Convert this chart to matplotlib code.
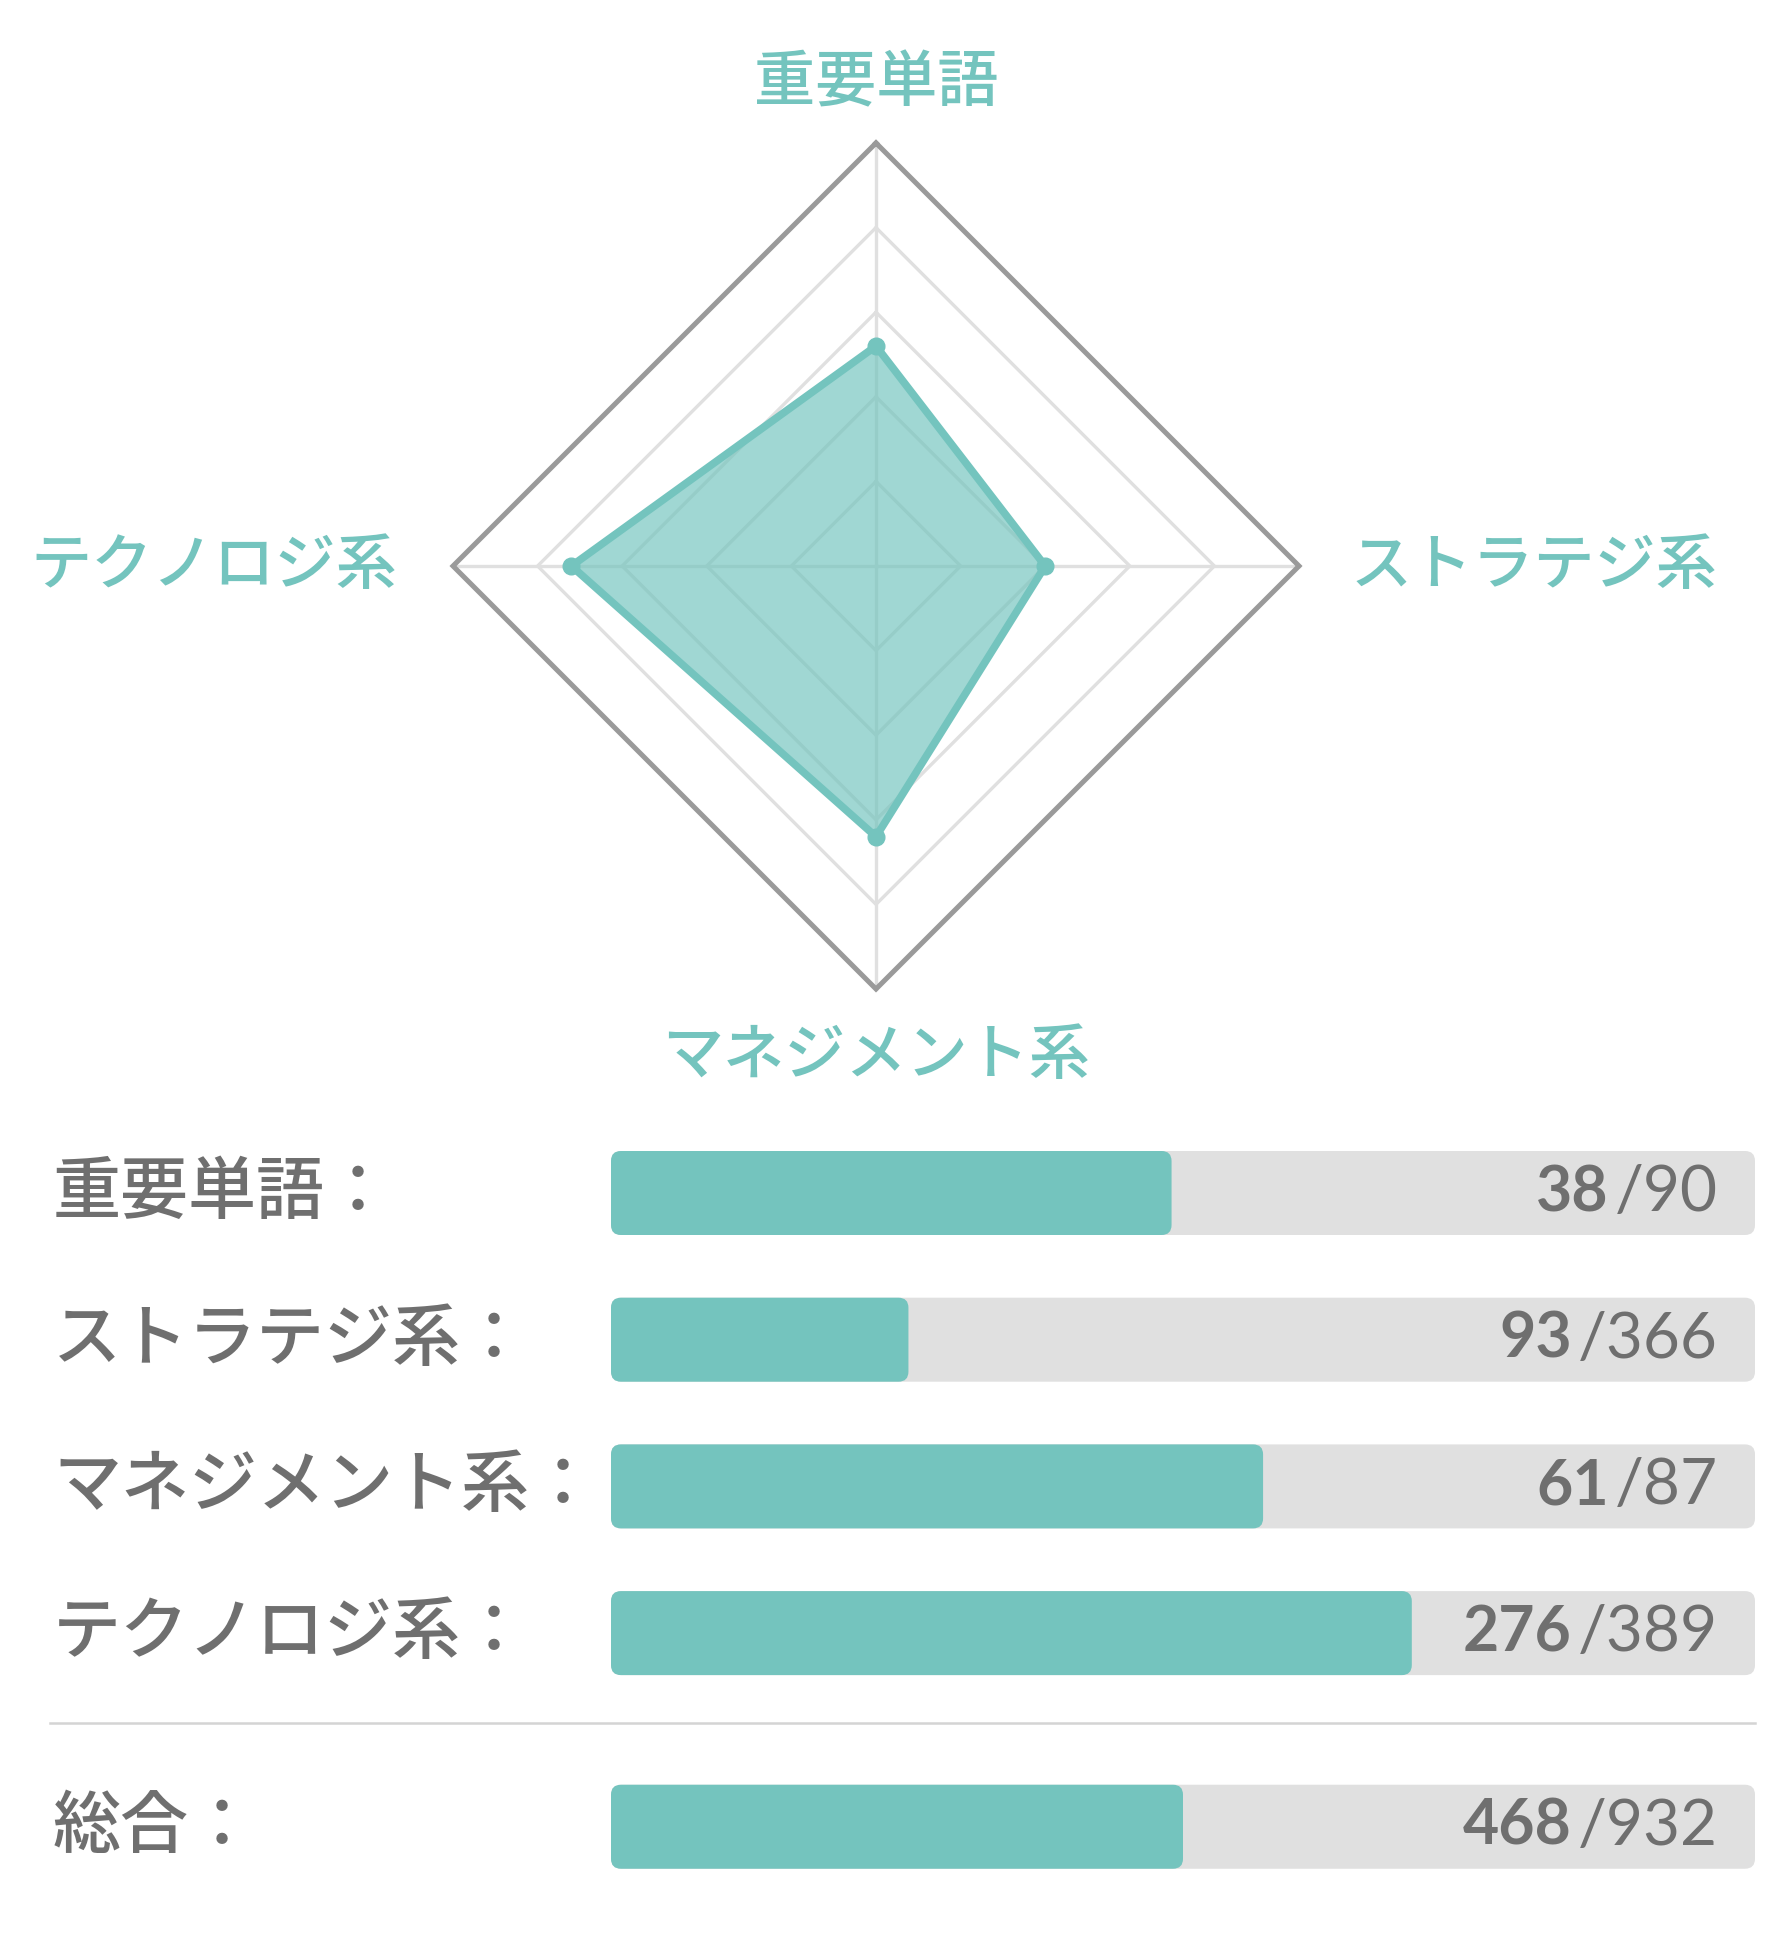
import numpy as np
import matplotlib
matplotlib.use("Agg")
import matplotlib.pyplot as plt
from matplotlib.patches import FancyBboxPatch
import matplotlib.transforms as mtransforms

plt.rcParams['font.family'] = ['Noto Sans CJK JP', 'DejaVu Sans']

# radar data (scores 0-100)
radar_axes = ['重要単語', 'ストラテジ系', 'マネジメント系', 'テクノロジ系']
radar_scores = [52, 40, 64, 72]

# bar rows
row_labels = ['重要単語：', 'ストラテジ系：', 'マネジメント系：', 'テクノロジ系：', '総合：']
correct = [38, 93, 61, 276, 468]
totals = [90, 366, 87, 389, 932]
bar_fill = [49, 26, 57, 70, 50]   # shown progress in percent
row_pos = [0, 1, 2, 3, 4.32]

TEAL = '#74c4be'
GRAY_TXT = '#6f6f6f'

W, H = 1780, 1944
fig = plt.figure(figsize=(W / 100, H / 100), dpi=100)
fig.patch.set_facecolor('white')

# ---------- radar ----------
cx, cy, half = 876, 566, 500
rmax = 100 * half / 423
ax = fig.add_axes([(cx - half) / W, 1 - (cy + half) / H, 2 * half / W, 2 * half / H])
ax.set_xlim(-rmax, rmax)
ax.set_ylim(-rmax, rmax)
ax.set_aspect('equal')
ax.axis('off')

theta = np.arange(len(radar_axes)) * np.pi / 2
sx, sy = np.sin(theta), np.cos(theta)

for lev in [20, 40, 60, 80]:
    ax.plot(np.append(sx, sx[0]) * lev, np.append(sy, sy[0]) * lev,
            color='#e0e0e0', lw=2.4, zorder=1)
for i in range(len(theta)):
    ax.plot([0, sx[i] * 100], [0, sy[i] * 100], color='#e0e0e0', lw=2.4, zorder=1)
ax.plot(np.append(sx, sx[0]) * 100, np.append(sy, sy[0]) * 100,
        color='#9a9a9a', lw=3.6, zorder=1, solid_joinstyle='miter')

vals = np.array(radar_scores, dtype=float)
px, py = sx * vals, sy * vals
ax.fill(px, py, color=TEAL, alpha=0.68, lw=0, zorder=2)
ax.plot(np.append(px, px[0]), np.append(py, py[0]), color=TEAL, lw=5.5, zorder=3,
        solid_joinstyle='round')
ax.plot(px, py, 'o', color=TEAL, ms=12, zorder=4)

lab_r = [114.0, 112.3, 116.0, 113.2]
ha = ['center', 'left', 'center', 'right']
for i, name in enumerate(radar_axes):
    ax.text(sx[i] * lab_r[i], sy[i] * lab_r[i], name, ha=ha[i], va='center',
            fontsize=44, color=TEAL, fontweight='medium', clip_on=False)

# ---------- bars ----------
bx0, bx1 = 611, 1755
row_px = 146.7
top_px, bot_px = 1100, 1940
bax = fig.add_axes([bx0 / W, 1 - bot_px / H, (bx1 - bx0) / W, (bot_px - top_px) / H])
bax.set_xlim(0, 100)
bax.set_ylim((bot_px - 1193) / row_px, (top_px - 1193) / row_px)
bax.axis('off')

bh = 84 / row_px
tracks = bax.barh(row_pos, [100] * len(row_pos), height=bh)
fills = bax.barh(row_pos, bar_fill, height=bh)
x_per_px = 100 / (bx1 - bx0)
y_per_px = 1 / row_px
aspect = y_per_px / x_per_px
for bars, col, z in [(tracks, '#e0e0e0', 1), (fills, TEAL, 2)]:
    for b in bars:
        x, y, w, h = b.get_x(), b.get_y(), b.get_width(), b.get_height()
        b.remove()
        bax.add_patch(FancyBboxPatch((x, y), w, h,
                                     boxstyle='round,pad=0,rounding_size=%f' % (10 * x_per_px),
                                     mutation_aspect=aspect, fc=col, ec='none', zorder=z))

lab_tr = mtransforms.blended_transform_factory(fig.transFigure, bax.transData)
for y, lab in zip(row_pos, row_labels):
    bax.text(53 / W, y, lab, transform=lab_tr, ha='left', va='center',
             fontsize=49, color=GRAY_TXT, fontweight='medium')

# separator
sep_y = (1723 - 1193) / row_px
bax.plot([(50 - bx0) * x_per_px, 100], [sep_y, sep_y], color='#d4d4d4', lw=1.8,
         clip_on=False)

fig.canvas.draw()
r = fig.canvas.get_renderer()
num_x = (1718 - bx0) * x_per_px
for y, c, t in zip(row_pos, correct, totals):
    dt = bax.text(num_x, y, '/%d' % t, ha='right', va='center', fontsize=46,
                  color=GRAY_TXT, family=['Lato', 'DejaVu Sans'], fontweight='normal', zorder=5)
    bb = dt.get_window_extent(renderer=r)
    xd = bax.transData.inverted().transform((bb.x0 - 6, 0))[0]
    bax.text(xd, y, str(c), ha='right', va='center', fontsize=45, color=GRAY_TXT,
             family=['Lato', 'DejaVu Sans'], fontweight='bold', zorder=5)

fig.savefig('out.png', dpi=100, facecolor='white')
